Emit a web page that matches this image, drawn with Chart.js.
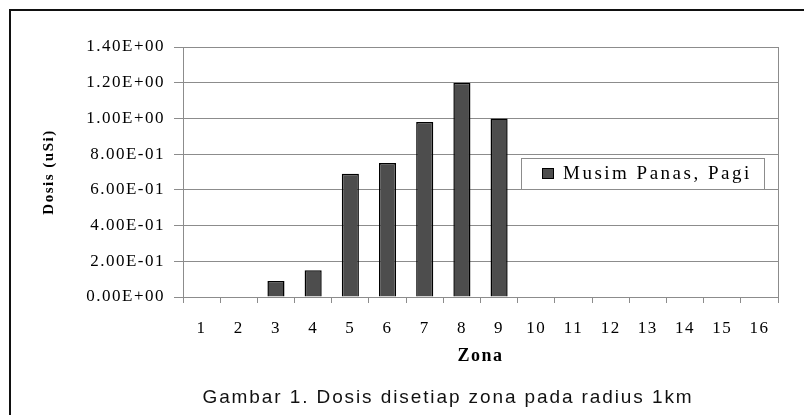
<!DOCTYPE html>
<html>
<head>
<meta charset="utf-8">
<script src="https://cdn.jsdelivr.net/npm/chart.js@4.4.1/dist/chart.umd.min.js"></script>
<style>
    html, body { margin: 0; padding: 0; background: #fff; overflow: hidden; }
    #wrap { position: relative; width: 804px; height: 415px; }
    #frame { position: absolute; left: 9px; top: 9px; width: 900px; height: 500px; border: 2px solid #111; box-sizing: border-box; pointer-events: none; }
    #caption { position: absolute; left: 0; top: 386px; width: 896px; text-align: center; line-height: 21px;
               font-family: "Liberation Sans", Arial, sans-serif; font-size: 19px; letter-spacing: 1.9px; color: #111; }
</style>
</head>
<body>
<div id="wrap">
    <canvas id="Chart_Dosis" width="804" height="415"></canvas>
    <div id="frame"></div>
    <div id="caption">Gambar 1. Dosis disetiap zona pada radius 1km</div>
</div>
<script>
    var zones = ["1", "2", "3", "4", "5", "6", "7", "8", "9", "10", "11", "12", "13", "14", "15", "16"];
    var dosis = [0, 0, 0.09, 0.15, 0.69, 0.75, 0.98, 1.20, 1.00, 0, 0, 0, 0, 0, 0, 0];
    var yTicks = [0, 0.2, 0.4, 0.6, 0.8, 1.0, 1.2, 1.4];
    var seriesName = 'Musim Panas, Pagi';

    var serif = "'Liberation Serif', 'Times New Roman', serif";

    // 1.40E+00 style labels
    function sci(v) {
        var p = Number(v).toExponential(2).toUpperCase().split('E');
        var sign = p[1].charAt(0);
        var exp = p[1].slice(1);
        if (exp.length < 2) exp = '0' + exp;
        return p[0] + 'E' + sign + exp;
    }

    var spacing = {
        id: 'spacing',
        beforeDraw: function (chart) {
            chart.ctx.letterSpacing = '1.5px';
        },
        afterDatasetsDraw: function (chart) {
            var ctx = chart.ctx;
            var a = chart.chartArea;
            ctx.save();
            ctx.strokeStyle = '#8c8c8c';
            ctx.lineWidth = 1;
            ctx.beginPath();
            ctx.moveTo(a.right + 0.5, a.top);
            ctx.lineTo(a.right + 0.5, a.bottom);
            ctx.stroke();
            ctx.restore();
        },
        afterDraw: function (chart) {
            var ctx = chart.ctx;
            var ds = chart.data.datasets[0];
            var a = chart.chartArea;
            var x = a.right - 257, y = 158, w = 243, h = 31;
            ctx.save();
            ctx.fillStyle = '#fff';
            ctx.fillRect(x, y, w, h);
            ctx.strokeStyle = '#8c8c8c';
            ctx.lineWidth = 1;
            ctx.strokeRect(x + 0.5, y + 0.5, w, h);
            ctx.fillStyle = ds.backgroundColor;
            ctx.fillRect(x + 21, y + 10, 12, 11);
            ctx.strokeStyle = '#000';
            ctx.strokeRect(x + 21.5, y + 10.5, 11, 10);
            ctx.fillStyle = '#000';
            ctx.letterSpacing = '2.5px';
            ctx.font = '19px ' + serif;
            ctx.textBaseline = 'middle';
            ctx.textAlign = 'left';
            ctx.fillText(ds.label, x + 42, y + 16.5);
            ctx.restore();
        }
    };

    var ctxDosis = document.getElementById("Chart_Dosis");
    var Chart_Dosis = new Chart(ctxDosis, {
        type: 'bar',
        data: {
            labels: zones,
            datasets: [{
                label: seriesName,
                data: dosis,
                backgroundColor: '#4d4d4d',
                borderColor: '#000',
                borderWidth: 1.5,
                barPercentage: 0.46,
                categoryPercentage: 1.0
            }]
        },
        options: {
            responsive: false,
            animation: false,
            devicePixelRatio: 1,
            layout: {
                padding: { left: 0, top: 47, right: 26, bottom: 0 }
            },
            plugins: {
                legend: { display: false },
                tooltip: { enabled: false }
            },
            scales: {
                x: {
                    grid: { offset: true, drawOnChartArea: false, drawTicks: true, tickLength: 6, color: '#8c8c8c' },
                    border: { color: '#8c8c8c' },
                    ticks: { padding: 15, color: '#000', maxRotation: 0, autoSkip: false, font: { family: serif, size: 17 } },
                    title: { display: true, text: 'Zona', color: '#000', font: { family: serif, size: 18, weight: 'bold' }, padding: { top: 0, bottom: 48 } },
                    afterFit: function (s) { s.height = 118; }
                },
                y: {
                    min: 0,
                    max: 1.4,
                    afterBuildTicks: function (s) {
                        s.ticks = yTicks.map(function (v) { return { value: v }; });
                    },
                    grid: { color: '#8c8c8c', tickLength: 9 },
                    border: { color: '#8c8c8c' },
                    ticks: { padding: 9, color: '#000', font: { family: serif, size: 17 }, callback: function (v) { return sci(v); } },
                    title: { display: true, text: 'Dosis (uSi)', color: '#000', font: { family: serif, size: 15, weight: 'bold' }, padding: { top: 40, bottom: 0 } },
                    afterFit: function (s) { s.width = 183; }
                }
            }
        },
        plugins: [spacing]
    });
</script>
</body>
</html>
